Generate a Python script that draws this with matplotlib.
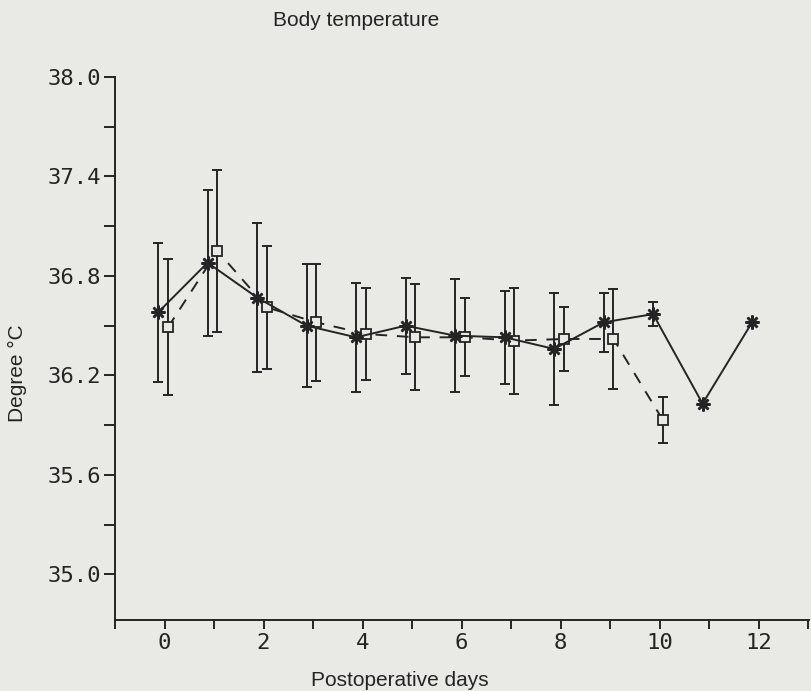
import numpy as np
import matplotlib.pyplot as plt

## Data
days = np.arange(0, 13)

# asterisk series (solid line)
mean_a = [36.58, 36.88, 36.67, 36.50, 36.43, 36.50, 36.44, 36.43, 36.36, 36.52, 36.57, 36.03, 36.52]
sd_a = [0.42, 0.44, 0.45, 0.37, 0.33, 0.29, 0.34, 0.28, 0.34, 0.18, 0.07, 0.0, 0.0]

# square series (dashed line), no data after day 10
days_s = np.arange(0, 11)
mean_s = [36.49, 36.95, 36.61, 36.52, 36.45, 36.43, 36.43, 36.41, 36.42, 36.42, 35.93]
sd_s = [0.41, 0.49, 0.37, 0.355, 0.28, 0.32, 0.235, 0.32, 0.195, 0.30, 0.14]

ink = '#242424'
bg = '#e9e9e6'

fig = plt.figure(figsize=(8.11, 6.91), dpi=100, facecolor=bg)
ax = fig.add_axes([115/811, 1 - 620/691, (809 - 115)/811, (620 - 77)/691])
ax.set_facecolor(bg)

xa = days - 0.13
xs = days_s + 0.07

# days 11 and 12 have no spread drawn
sd_a_plot = np.array(sd_a)
ax.errorbar(xa[:11], mean_a[:11], yerr=sd_a_plot[:11], fmt='none', ecolor=ink,
            elinewidth=1.4, capsize=3.3, capthick=1.4, zorder=2)
ax.errorbar(xs, mean_s, yerr=sd_s, fmt='none', ecolor=ink,
            elinewidth=1.4, capsize=3.3, capthick=1.4, zorder=2)

ax.plot(xs, mean_s, color=ink, lw=1.4, dashes=(6, 5),
        marker='s', ms=7, mfc=bg, mec=ink, mew=1.3, zorder=3)
ax.plot(xa, mean_a, color=ink, lw=1.4, ls='-',
        marker=(8, 2, 0), ms=10, mec=ink, mew=1.8, zorder=4)

## Axes styling
ax.set_xlim(-1.0, 13.02)
ax.set_ylim(34.725, 38.0)
for s in ['top', 'right']:
    ax.spines[s].set_visible(False)
for s in ['left', 'bottom']:
    ax.spines[s].set_color(ink)
    ax.spines[s].set_linewidth(1.4)

yt = [35.0, 35.6, 36.2, 36.8, 37.4, 38.0]
ax.set_yticks(yt)
ax.set_yticklabels(['%.1f' % v for v in yt])
ax.set_yticks([35.3, 35.9, 36.5, 37.1, 37.7], minor=True)
ax.set_xticks([0, 2, 4, 6, 8, 10, 12])
ax.set_xticks([-1, 1, 3, 5, 7, 9, 11, 13], minor=True)

for lab in ax.get_yticklabels() + ax.get_xticklabels():
    lab.set_fontfamily('DejaVu Sans Mono')
    lab.set_fontsize(16)
    lab.set_color(ink)
ax.tick_params(axis='y', which='both', direction='out', length=8, width=1.4, color=ink, pad=2)
ax.tick_params(axis='x', which='both', direction='out', length=6.5, width=1.4, color=ink, pad=3)

fig.text(356/811, 1 - 20/691, 'Body temperature', ha='center', va='center',
         family='Liberation Sans', fontsize=15, color=ink)
fig.text(400/811, 1 - 680/691, 'Postoperative days', ha='center', va='center',
         family='Liberation Sans', fontsize=15, color=ink)
fig.text(17/811, 1 - 373/691, 'Degree °C', ha='center', va='center', rotation=90,
         family='Liberation Sans', fontsize=15, color=ink)

fig.savefig('out.png', dpi=100, facecolor=bg)
